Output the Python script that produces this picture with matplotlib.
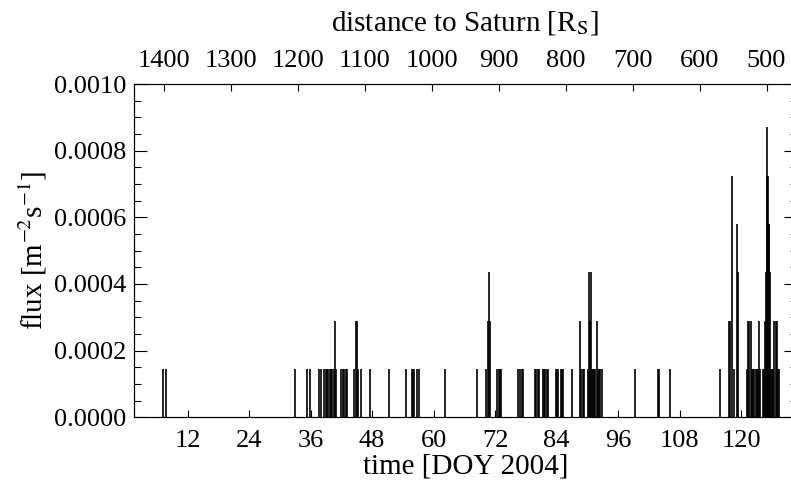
import matplotlib
matplotlib.use('Agg')
import matplotlib.pyplot as plt
from matplotlib.ticker import MultipleLocator, FormatStrFormatter

plt.rcParams['font.family'] = ['Liberation Serif', 'DejaVu Serif']
plt.rcParams['mathtext.fontset'] = 'stix'

# spike times (DOY 2004) and flux values
doy = [7.12, 7.75, 32.98, 35.38, 35.84, 37.66, 38.11, 38.54,
       39.0, 39.25, 39.5, 39.75, 40.0, 40.25, 40.5, 40.72, 40.95,
       41.85, 42.35, 42.6, 42.85, 43.1,
       44.5, 44.78, 44.98, 45.3, 45.76, 47.61, 51.38, 54.67, 55.75, 56.0, 56.2, 56.68, 57.23, 62.15,
       68.43, 70.2, 70.6, 70.8, 71.0, 72.35, 72.7, 72.95, 73.15,
       76.55, 76.8, 77.25, 77.5, 79.8, 80.05, 80.3, 80.55, 81.3, 81.55, 81.8, 82.05, 82.35,
       83.9, 84.1, 84.35, 84.8, 85.0, 85.2, 87.12, 88.59, 88.84, 89.11, 89.46,
       90.2, 90.4, 90.6, 90.8, 91.0, 91.2, 91.4, 91.6, 91.85, 92.05, 92.3, 92.5, 92.94,
       99.22, 103.9, 104.05, 106.15, 115.9, 117.72, 117.95, 118.19, 118.54, 119.16, 119.36,
       121.25, 121.45, 121.65, 121.9, 122.1, 122.35, 122.6, 122.85, 123.05, 123.3, 123.5, 123.7,
       124.35, 124.55, 124.75, 124.9, 125.0, 125.1, 125.25, 125.4, 125.55, 125.7, 125.85,
       126.05, 126.3, 126.5, 126.75, 127.0, 127.25, 127.45]

flux = [1.45e-4, 1.45e-4, 1.45e-4, 1.45e-4, 1.45e-4, 1.45e-4, 1.45e-4, 1.45e-4,
        1.45e-4, 1.45e-4, 1.45e-4, 1.45e-4, 1.45e-4, 1.45e-4, 1.45e-4, 2.9e-4, 1.45e-4,
        1.45e-4, 1.45e-4, 1.45e-4, 1.45e-4, 1.45e-4,
        1.45e-4, 2.9e-4, 2.9e-4, 1.45e-4, 1.45e-4, 1.45e-4, 1.45e-4, 1.45e-4, 1.45e-4, 1.45e-4, 1.45e-4, 1.45e-4, 1.45e-4, 1.45e-4,
        1.45e-4, 1.45e-4, 2.9e-4, 4.35e-4, 2.9e-4, 1.45e-4, 1.45e-4, 1.45e-4, 1.45e-4,
        1.45e-4, 1.45e-4, 1.45e-4, 1.45e-4, 1.45e-4, 1.45e-4, 1.45e-4, 1.45e-4, 1.45e-4, 1.45e-4, 1.45e-4, 1.45e-4, 1.45e-4,
        1.45e-4, 1.45e-4, 1.45e-4, 1.45e-4, 1.45e-4, 1.45e-4, 1.45e-4, 2.9e-4, 1.45e-4, 1.45e-4, 1.45e-4,
        1.45e-4, 4.35e-4, 2.9e-4, 4.35e-4, 1.45e-4, 1.45e-4, 1.45e-4, 1.45e-4, 2.9e-4, 1.45e-4, 1.45e-4, 1.45e-4, 1.45e-4,
        1.45e-4, 1.45e-4, 1.45e-4, 1.45e-4, 1.45e-4, 2.9e-4, 2.9e-4, 7.25e-4, 1.45e-4, 5.8e-4, 4.35e-4,
        1.45e-4, 2.9e-4, 2.9e-4, 2.9e-4, 1.45e-4, 1.45e-4, 1.45e-4, 1.45e-4, 1.45e-4, 1.45e-4, 2.9e-4, 1.45e-4,
        1.45e-4, 1.45e-4, 2.9e-4, 4.35e-4, 7.25e-4, 8.7e-4, 7.25e-4, 5.8e-4, 5.8e-4, 4.35e-4, 1.45e-4,
        1.45e-4, 1.45e-4, 2.9e-4, 2.9e-4, 2.9e-4, 1.45e-4, 1.45e-4]

# distance to Saturn vs time (linear over this stretch)
rs_ticks = [1400, 1300, 1200, 1100, 1000, 900, 800, 700, 600, 500]
rs_ref_doy = 7.41
rs_ref = 1400.0
rs_rate = 7.655   # R_S per day

doy_min, doy_max = 1.46, 130.93


def doy_to_rs(d):
    return rs_ref - rs_rate * (d - rs_ref_doy)


fig = plt.figure(figsize=(7.91, 4.87), dpi=100)
ax = fig.add_axes([0.1688, 0.1431, 0.8388, 0.6844])

ax.vlines(doy, 0, flux, color='black', lw=1.2)

ax.set_xlim(doy_min, doy_max)
ax.set_ylim(0, 0.001)
ax.xaxis.set_major_locator(MultipleLocator(12))
ax.yaxis.set_major_locator(MultipleLocator(0.0002))
ax.yaxis.set_minor_locator(MultipleLocator(0.00005))
ax.yaxis.set_major_formatter(FormatStrFormatter('%.4f'))
ax.tick_params(axis='x', which='major', direction='in', length=4.8, width=0.8,
               top=False, bottom=True, labelsize=19, pad=9)
ax.tick_params(axis='y', which='major', direction='in', length=9.6, width=0.8,
               left=True, right=True, labelsize=19, pad=5)
ax.tick_params(axis='y', which='minor', direction='in', length=5, width=0.8,
               left=True, right=True)
for s in ax.spines.values():
    s.set_linewidth(0.8)

ax.set_xlabel('time [DOY 2004]', fontsize=21, labelpad=1)
ax.set_ylabel('flux [m$^{-2}$s$^{-1}$]', fontsize=21, labelpad=4)

ax2 = ax.twiny()
ax2.set_xlim(doy_to_rs(doy_min), doy_to_rs(doy_max))
ax2.set_xticks(rs_ticks)
ax2.tick_params(axis='x', direction='in', length=5, width=0.8, labelsize=19, pad=9)
ax2.set_xlabel('distance to Saturn [R$_\\mathrm{S}$]', fontsize=21, labelpad=14)

fig.savefig('out.png', dpi=100)
